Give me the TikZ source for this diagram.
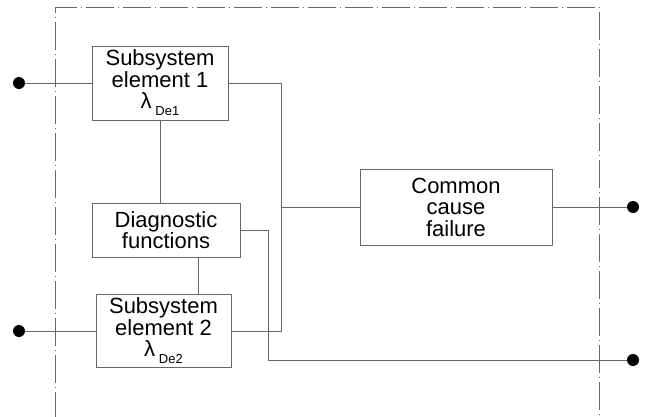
\documentclass[tikz,border=0pt]{standalone}
\usepackage{fontspec}
\setmainfont{Liberation Sans}
\begin{document}
\begin{tikzpicture}[x=1pt,y=-1pt,
  box/.style={draw=black!60,line width=0.8pt,fill=white,inner sep=0pt,align=center,
    font=\fontsize{22}{21.5}\selectfont},
  wire/.style={draw=black!60,line width=0.8pt},
  bound/.style={draw=black!60,line width=0.8pt,dash pattern=on 28pt off 4pt on 1pt off 4pt},
  term/.style={circle,fill=black,inner sep=0pt,minimum size=12pt}]
\useasboundingbox (0,0) rectangle (647,416);
\draw[bound] (55,420) -- (55,7) -- (599,7) -- (599,420);
\node[box,minimum width=136pt,minimum height=74pt] (s1) at (160,83)
  {Subsystem\\element 1\\λ\,\raisebox{-7pt}{\fontsize{13}{13}\selectfont De1}};
\node[box,minimum width=148pt,minimum height=54pt] (dg) at (166,230)
  {Diagnostic\\functions};
\node[box,minimum width=135pt,minimum height=73pt] (s2) at (163.5,331)
  {Subsystem\\element 2\\λ\,\raisebox{-7pt}{\fontsize{13}{13}\selectfont De2}};
\node[box,minimum width=192pt,minimum height=76pt] (cc) at (456,207)
  {Common\\cause\\failure};
\node[term] (t1) at (19,83) {};
\node[term] (t2) at (19,331) {};
\node[term] (t3) at (633,207) {};
\node[term] (t4) at (633,360) {};
\coordinate (ja) at (281,83);
\coordinate (jb) at (281,331);
\coordinate (jc) at (281,207);
\coordinate (da) at (268,230);
\coordinate (db) at (268,360);
\draw[wire] (t1) -- (s1.west);
\draw[wire] (t2) -- (s2.west);
\draw[wire] (s1.east) -- (ja) -- (jb) -- (s2.east);
\draw[wire] (jc) -- (cc.west);
\draw[wire] (cc.east) -- (t3);
\draw[wire] (s1.south) -- (s1.south |- dg.north);
\draw[wire] (dg.south -| 198,0) -- (s2.north -| 198,0);
\draw[wire] (dg.east) -- (da) -- (db) -- (t4);
\end{tikzpicture}
\end{document}
